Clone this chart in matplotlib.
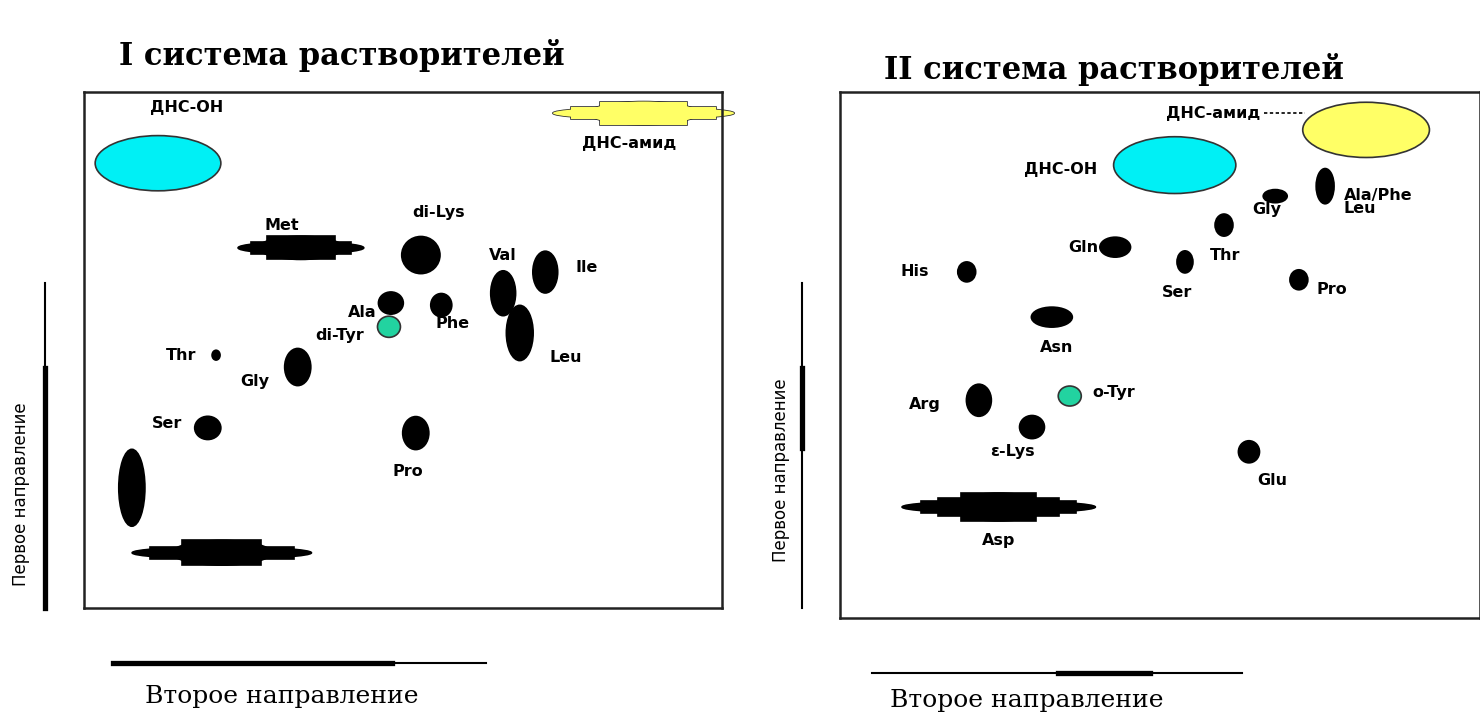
import matplotlib
matplotlib.use("Agg")
import matplotlib.pyplot as plt
from matplotlib.patches import Ellipse, Rectangle

# --- данные: две системы растворителей, Rf во 2-м (x) и 1-м (y) направлении ---
titles = ["I система растворителей", "II система растворителей"]
first_dir = "Первое направление"
second_dir = "Второе направление"

# система I — пятна
names_1 = ["ДНС-ОН", "di-Lys", "Val", "Ile", "Leu", "Ala", "Phe", "di-Tyr",
           "Thr", "Gly", "Ser", "Pro", ""]
rf2_1 = [0.116, 0.528, 0.657, 0.723, 0.683, 0.481, 0.560, 0.478,
         0.207, 0.335, 0.194, 0.520, 0.075]
rf1_1 = [0.862, 0.684, 0.610, 0.651, 0.533, 0.591, 0.587, 0.545,
         0.490, 0.467, 0.349, 0.339, 0.233]
spot_w_1 = [0.197, 0.060, 0.039, 0.039, 0.042, 0.039, 0.033, 0.036,
            0.0125, 0.041, 0.041, 0.041, 0.041]
spot_h_1 = [0.107, 0.072, 0.087, 0.081, 0.107, 0.043, 0.045, 0.041,
            0.019, 0.072, 0.045, 0.064, 0.149]

# система I — вытянутые пятна (хвосты)
streak_names_1 = ["ДНС-амид", "Met", ""]
streak_rf2_1 = [0.877, 0.340, 0.216]
streak_rf1_1 = [0.959, 0.698, 0.107]
streak_layers_1 = [[(0.284, 0.023), (0.171, 0.045)],
                   [(0.197, 0.023), (0.132, 0.045)],
                   [(0.281, 0.023), (0.155, 0.048)]]

# система II — пятна
names_2 = ["ДНС-амид", "ДНС-ОН", "Ala/Phe/Leu", "Gly", "Thr", "Gln", "Ser",
           "His", "Pro", "Asn", "Arg", "o-Tyr", "ε-Lys", "Glu"]
rf2_2 = [0.822, 0.523, 0.758, 0.680, 0.600, 0.430, 0.539,
         0.198, 0.717, 0.331, 0.217, 0.359, 0.300, 0.639]
rf1_2 = [0.928, 0.861, 0.821, 0.802, 0.747, 0.705, 0.677,
         0.658, 0.643, 0.572, 0.414, 0.422, 0.363, 0.316]
spot_w_2 = [0.198, 0.191, 0.028, 0.0375, 0.028, 0.048, 0.025,
            0.028, 0.028, 0.064, 0.039, 0.036, 0.039, 0.033]
spot_h_2 = [0.105, 0.108, 0.067, 0.025, 0.042, 0.038, 0.042,
            0.038, 0.038, 0.038, 0.061, 0.038, 0.044, 0.042]

streak_names_2 = ["Asp"]
streak_rf2_2 = [0.248]
streak_rf1_2 = [0.211]
streak_layers_2 = [[(0.302, 0.023), (0.237, 0.034), (0.147, 0.053)]]

# --- оформление ---
special_colors = {"ДНС-ОН": "#00f0f5", "ДНС-амид": "#ffff66",
                  "di-Tyr": "#22d3a0", "o-Tyr": "#22d3a0"}

label_pos_1 = {"ДНС-ОН": (0.161, 0.969), "ДНС-амид": (0.854, 0.901),
               "Met": (0.310, 0.742), "di-Lys": (0.555, 0.767),
               "Val": (0.657, 0.684), "Ile": (0.788, 0.659),
               "Leu": (0.755, 0.486), "Ala": (0.436, 0.572),
               "Phe": (0.577, 0.552), "di-Tyr": (0.400, 0.529),
               "Thr": (0.152, 0.490), "Gly": (0.268, 0.438),
               "Ser": (0.130, 0.357), "Pro": (0.508, 0.264)}
label_pos_2 = {"ДНС-амид": (0.583, 0.960), "ДНС-ОН": (0.345, 0.852),
               "Ala/Phe": (0.856, 0.804), "Leu": (0.818, 0.779),
               "Gly": (0.667, 0.776), "Thr": (0.602, 0.690),
               "Gln": (0.380, 0.705), "Ser": (0.527, 0.618),
               "His": (0.117, 0.658), "Pro": (0.769, 0.624),
               "Asn": (0.338, 0.515), "Arg": (0.133, 0.405),
               "o-Tyr": (0.428, 0.428), "ε-Lys": (0.269, 0.316),
               "Glu": (0.675, 0.262), "Asp": (0.248, 0.148)}

LABEL_KW = dict(fontsize=11.5, fontweight="bold", ha="center", va="center",
                family="DejaVu Sans")


def spot_color(name):
    return special_colors.get(name, "black")


def draw_spots(ax, names, xs, ys, ws, hs):
    for name, x, y, w, h in zip(names, xs, ys, ws, hs):
        c = spot_color(name)
        ec = "#333333" if c != "black" else "black"
        ax.add_patch(Ellipse((x, y), w, h, fc=c, ec=ec, lw=1.2,
                             zorder=3, clip_on=False))


def draw_streaks(ax, names, xs, ys, layers):
    # каждый слой — эллипс + плоская середина, контур рисуется снизу
    for name, x, y, lay in zip(names, xs, ys, layers):
        c = spot_color(name)
        ec = "#333333" if c != "black" else "black"
        for z, edge in ((2, ec), (2.5, "none")):
            for length, h in lay:
                ax.add_patch(Ellipse((x, y), length, h, fc=c, ec=edge,
                                     lw=1.2, zorder=z, clip_on=False))
                core = length * 0.8
                ax.add_patch(Rectangle((x - core / 2, y - h / 2), core, h,
                                       fc=c, ec=edge, lw=1.2, zorder=z,
                                       clip_on=False))


def draw_labels(ax, pos):
    for name, (x, y) in pos.items():
        ax.text(x, y, name, zorder=4, **LABEL_KW)


fig = plt.figure(figsize=(14.8, 7.14), dpi=100)

# фоновая ось в пикселях — для стрелок направлений и подписей
bg = fig.add_axes([0, 0, 1, 1])
bg.set_xlim(0, 1480)
bg.set_ylim(714, 0)
bg.axis("off")

ax1 = fig.add_axes([84 / 1480, 1 - 608 / 714, 638 / 1480, 516 / 714])
ax2 = fig.add_axes([840 / 1480, 1 - 618 / 714, 640 / 1480, 526 / 714])
for ax in (ax1, ax2):
    ax.set_xlim(0, 1)
    ax.set_ylim(0, 1)
    ax.set_xticks([])
    ax.set_yticks([])
    for s in ax.spines.values():
        s.set_linewidth(1.8)
        s.set_color("#222222")

draw_streaks(ax1, streak_names_1, streak_rf2_1, streak_rf1_1, streak_layers_1)
draw_spots(ax1, names_1, rf2_1, rf1_1, spot_w_1, spot_h_1)
draw_labels(ax1, label_pos_1)

draw_streaks(ax2, streak_names_2, streak_rf2_2, streak_rf1_2, streak_layers_2)
draw_spots(ax2, names_2, rf2_2, rf1_2, spot_w_2, spot_h_2)
draw_labels(ax2, {k: v for k, v in label_pos_2.items()
                  if k not in ("Ala/Phe", "Leu")})
for k in ("Ala/Phe", "Leu"):
    x, y = label_pos_2[k]
    ax2.text(0.787, y, k, zorder=4, **{**LABEL_KW, "ha": "left"})
ax2.plot([0.662, 0.727], [0.960, 0.960], ls=(0, (2, 1.5)), color="black",
         lw=1.2, zorder=4)

# стрелки направлений
thin, thick = 1.5, 3.8
bg.plot([45, 45], [283, 608], color="black", lw=thin)
bg.plot([45, 45], [368, 608], color="black", lw=thick)
bg.plot([113, 486], [663, 663], color="black", lw=thin)
bg.plot([113, 392], [663, 663], color="black", lw=thick)
bg.plot([802, 802], [283, 608], color="black", lw=thin)
bg.plot([802, 802], [368, 448], color="black", lw=thick)
bg.plot([872, 1242], [673, 673], color="black", lw=thin)
bg.plot([1058, 1150], [673, 673], color="black", lw=thick)

bg.text(21, 494, first_dir, rotation=90, ha="center", va="center",
        fontsize=12, family="DejaVu Sans")
bg.text(781, 470, first_dir, rotation=90, ha="center", va="center",
        fontsize=12, family="DejaVu Sans")
bg.text(282, 697, second_dir, ha="center", va="center", fontsize=18,
        family="DejaVu Serif")
bg.text(1027, 700, second_dir, ha="center", va="center", fontsize=18,
        family="DejaVu Serif")

bg.text(342, 55, titles[0], ha="center", va="center", fontsize=22,
        fontweight="bold", family="DejaVu Serif")
bg.text(1114, 70, titles[1], ha="center", va="center", fontsize=22,
        fontweight="bold", family="DejaVu Serif")

fig.savefig("out.png", dpi=100)
